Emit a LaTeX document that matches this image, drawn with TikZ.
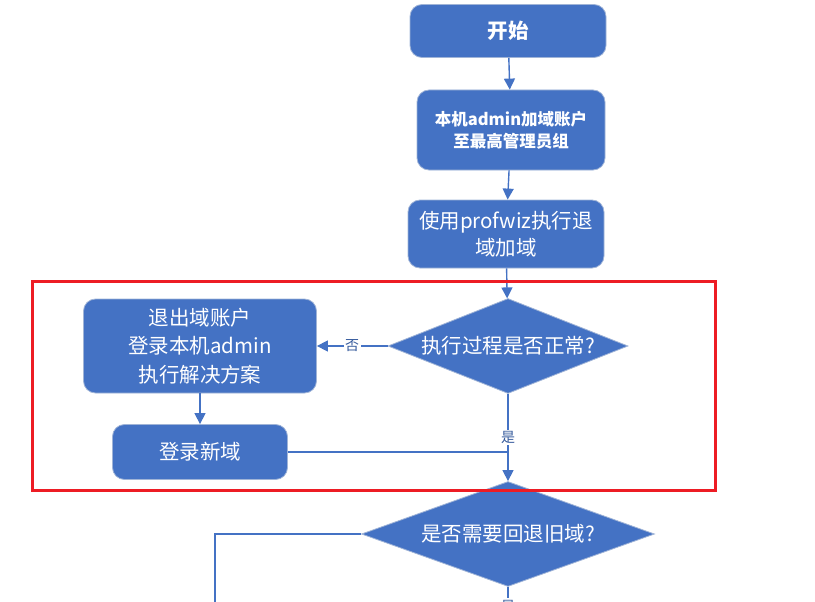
\documentclass[tikz,border=0pt]{standalone}
\usepackage{fontspec}
\newfontfamily\cjk{Noto Sans CJK SC}
\usetikzlibrary{arrows.meta,shapes.geometric}
\definecolor{flowblue}{RGB}{68,114,196}
\definecolor{flowedge}{RGB}{160,180,215}
\definecolor{markred}{RGB}{237,28,36}

\begin{document}
\begin{tikzpicture}[x=1pt,y=-1pt]
\tikzset{
  stepbox/.style={rectangle,rounded corners=12pt,fill=flowblue,draw=flowedge,line width=0.8pt,text=white,align=center,font=\cjk\fontsize{20.5}{27}\selectfont,inner sep=0pt},
  decision/.style={diamond,aspect=2.5,fill=flowblue,draw=flowedge,line width=0.8pt,text=white,align=center,font=\cjk\fontsize{20.5}{27}\selectfont,inner sep=0pt},
  flow/.style={-{Triangle[length=11pt,width=11pt]},flowblue,line width=1.4pt},
  plainflow/.style={flowblue,line width=1.4pt},
  flowlabel/.style={fill=white,text=flowblue!80!black,font=\cjk\fontsize{14}{16}\selectfont,inner sep=1.5pt}
}
\useasboundingbox (0,0) rectangle (815,602);
\node[stepbox,minimum width=196pt,minimum height=53pt] (n_start) at (508,31) {\bfseries 开始};
\node[stepbox,minimum width=188pt,minimum height=80pt,font=\cjk\fontsize{16.5}{22}\selectfont] (n_addadmin) at (511,130) {\bfseries 本机admin加域账户\\\bfseries 至最高管理员组};
\node[stepbox,minimum width=196pt,minimum height=68pt] (n_profwiz) at (506,234) {使用profwiz执行退\\域加域};
\node[decision,minimum width=240pt,minimum height=95pt] (n_check) at (508,346) {执行过程是否正常?};
\node[stepbox,minimum width=233pt,minimum height=94pt,font=\cjk\fontsize{20.5}{28.5}\selectfont] (n_fix) at (200,346) {退出域账户\\登录本机admin\\执行解决方案};
\node[stepbox,minimum width=175pt,minimum height=55pt] (n_login) at (200,452) {登录新域};
\node[decision,aspect=2.8,minimum width=293pt,minimum height=105pt] (n_rollback) at (508,534) {是否需要回退旧域?};
\coordinate (c_join) at (508,452);
\coordinate (c_left) at (215,640);
\coordinate (c_down) at (508,640);

\draw[flow] (n_check) -- (n_fix) node[flowlabel,midway] {否};
\draw[flow] (n_check) -- (n_rollback) node[flowlabel,pos=0.5] {是};
\draw[flow] (n_start) -- (n_addadmin);
\draw[flow] (n_addadmin) -- (n_profwiz);
\draw[flow] (n_profwiz) -- (n_check);
\draw[flow] (n_fix) -- (n_login);
\draw[plainflow] (n_login) -- (c_join);
\draw[plainflow] (n_rollback.west) -| (c_left);
\draw[plainflow] (n_rollback.south) -- (c_down) node[flowlabel,pos=0.36] {是};

% marked region
\draw[markred,line width=3pt] (32,281) rectangle (715,490);
\end{tikzpicture}
\end{document}
